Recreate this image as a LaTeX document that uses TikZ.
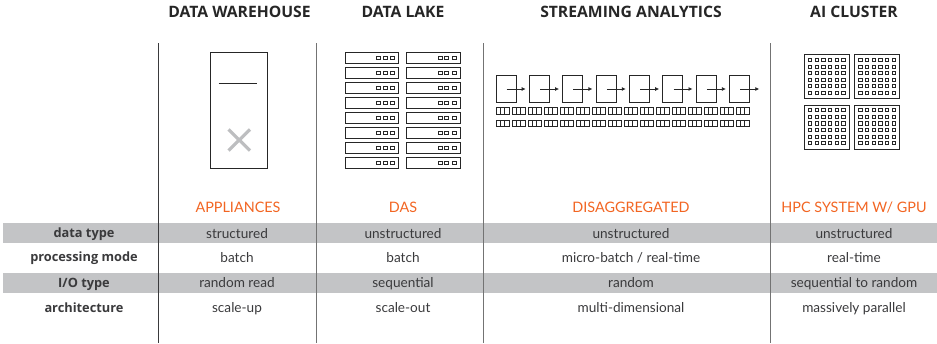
\documentclass[tikz,border=0pt]{standalone}
\usepackage{fontspec}
\usetikzlibrary{arrows.meta}
\setmainfont{Lato}
\newfontfamily\heavyf{Open Sans}
\definecolor{band}{HTML}{C3C4C6}
\definecolor{ink}{HTML}{3A3A3C}
\definecolor{orng}{HTML}{F26522}
\definecolor{xgray}{HTML}{BDBEC0}
\tikzset{
 head/.style={anchor=base,inner sep=0pt,font=\heavyf\fontsize{15.7}{18}\selectfont\bfseries,text=black!85},
 cat/.style={anchor=base,inner sep=0pt,font=\fontsize{14.4}{16}\selectfont,text=orng},
 rowlab/.style={anchor=base,inner sep=0pt,font=\heavyf\fontsize{12.8}{15}\selectfont\bfseries,text=ink},
 cell/.style={anchor=base,inner sep=0pt,font=\fontsize{13.6}{15}\selectfont,text=ink},
 vrule/.style={line width=0.9pt,draw=ink},
 vrulel/.style={line width=0.9pt,draw=black!55},
 icon/.style={draw=black!85,line width=0.9pt},
 bandbox/.style={fill=band,draw=none},
}
\begin{document}
\begin{tikzpicture}[x=1pt,y=-1pt]
\useasboundingbox (0,0) rectangle (937,343);
% bands
\path[bandbox] (3,223) rectangle (937,243);
\path[bandbox] (3,273) rectangle (937,293);
% vertical rules
\draw[vrule] (158.5,43) -- (158.5,343);
\draw[vrulel] (316,43) -- (316,343);
\draw[vrulel] (483,43) -- (483,343);
\draw[vrulel] (770,43) -- (770,343);
% headers
\node[head] (h1) at (239.5,17) {DATA WAREHOUSE};
\node[head] (h2) at (403,17) {DATA LAKE};
\node[head] (h3) at (631,17) {STREAMING ANALYTICS};
\node[head] (h4) at (854,17) {AI CLUSTER};
% appliance icon
\draw[icon] (210.5,52.7) rectangle (267,168);
\draw[icon] (218.5,83.7) -- (257,83.7);
\draw[xgray,line width=3.2pt] (228.5,129.5) -- (250,150.5) (250,129.5) -- (228.5,150.5);
% DAS icon
\foreach \r in {0,...,7}{
 \foreach \c in {345,406.3}{
  \draw[icon] (\c,52.7+15*\r) rectangle ++(53.7,10.6);
  \foreach \s in {31.7,38.5,45.7}
   \draw[icon] (\c+\s,56+15*\r) rectangle ++(4,3.8);
 }
}
% streaming icon
\foreach \i in {0,...,7}{
 \draw[icon] (496+33.37*\i,75.7) rectangle ++(20,27);
 \draw[icon,-{Latex[length=4pt,width=4pt]}] (506.7+33.37*\i,89) -- ++(19,0);
}
\foreach \y in {107.7,120}{
 \foreach \i in {0,...,15}{
  \draw[icon,line width=1pt] (496+16.02*\i,\y) rectangle ++(13,6.7);
  \draw[icon] (500.3+16.02*\i,\y) -- ++(0,6.7) (504.6+16.02*\i,\y) -- ++(0,6.7);
 }
}
% GPU icon
\foreach \tx in {804,854.3}{
 \foreach \ty in {54.7,105}{
  \draw[icon,line width=0.9pt] (\tx,\ty) rectangle ++(45,44);
  \foreach \a in {0,...,5}\foreach \b in {0,...,5}
   \draw[icon,line width=1pt] (\tx+4.6+6.67*\a,\ty+3.7+6.6*\b) rectangle ++(3.1,3.1);
 }
}
% categories
\node[cat] (c1) at (238,212) {APPLIANCES};
\node[cat] (c2) at (403,212) {DAS};
\node[cat] (c3) at (631,212) {DISAGGREGATED};
\node[cat] (c4) at (854,212) {HPC SYSTEM W/ GPU};
% rows
\node[rowlab] (l1) at (84,237) {data type};
\node[rowlab] (l2) at (84,261) {processing mode};
\node[rowlab] (l3) at (84,287) {I/O type};
\node[rowlab] (l4) at (84,312) {architecture};
\node[cell] (a1) at (237,238) {structured};
\node[cell] (a2) at (237,262) {batch};
\node[cell] (a3) at (237,287) {random read};
\node[cell] (a4) at (237,312) {scale-up};
\node[cell] (b1) at (403,238) {unstructured};
\node[cell] (b2) at (403,262) {batch};
\node[cell] (b3) at (403,287) {sequential};
\node[cell] (b4) at (403,312) {scale-out};
\node[cell] (d1) at (631,238) {unstructured};
\node[cell] (d2) at (631,262) {micro-batch / real-time};
\node[cell] (d3) at (631,287) {random};
\node[cell] (d4) at (631,312) {multi-dimensional};
\node[cell] (e1) at (854,238) {unstructured};
\node[cell] (e2) at (854,262) {real-time};
\node[cell] (e3) at (854,287) {sequential to random};
\node[cell] (e4) at (854,312) {massively parallel};
\end{tikzpicture}
\end{document}
